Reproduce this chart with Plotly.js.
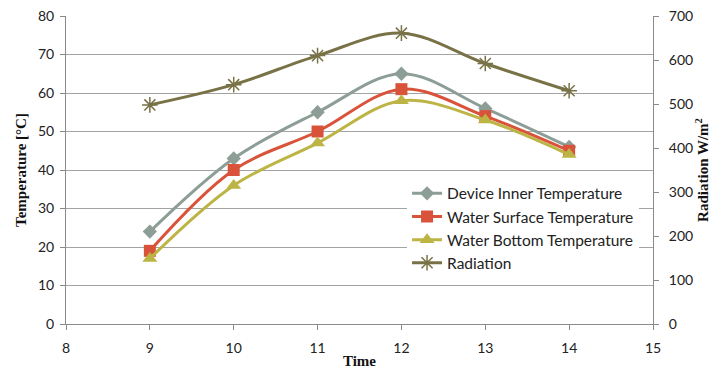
<!DOCTYPE html>
<html>
<head>
<meta charset="utf-8">
<script src="https://cdn.plot.ly/plotly-3.0.1.min.js"></script>
<style>
  html, body { margin: 0; padding: 0; background: #fff; }
  #chart { width: 715px; height: 372px; }
</style>
</head>
<body>
<div id="chart"></div>
<script>
// Hourly measurements
const hours = [9, 10, 11, 12, 13, 14];
const deviceInner = [24, 43, 55, 65, 56, 46];
const waterSurface = [19, 40, 50, 61, 54, 45];
const waterBottom = [17, 36, 47, 58, 53, 44];
const radiation = [498, 544, 610, 661, 592, 530];

const tickFont = { family: 'Lato, "Open Sans", sans-serif', size: 14, color: '#222' };
const titleFont = { family: '"Liberation Serif", "Times New Roman", serif', size: 15, color: '#111', weight: 'bold' };

function series(name, y, color, symbol, size, axis, group) {
  return {
    x: hours, y: y, name: name, type: 'scatter', mode: 'lines+markers',
    yaxis: axis, legendgroup: group,
    line: { color: color, width: 3, shape: 'spline', smoothing: 1 },
    marker: { color: color, symbol: symbol, size: size, line: { color: color, width: 0 } }
  };
}

const traces = [
  series('Device Inner Temperature', deviceInner, '#8c9e96', 'diamond', 11, 'y', 'a'),
  series('Water Surface Temperature', waterSurface, '#d9533b', 'square', 12, 'y', 'b'),
  series('Water Bottom Temperature', waterBottom, '#bdb446', 'triangle-up', 13, 'y', 'c'),
  {
    x: hours, y: radiation, name: 'Radiation', type: 'scatter', mode: 'lines+markers',
    yaxis: 'y2', legendgroup: 'd',
    line: { color: '#787246', width: 3, shape: 'spline', smoothing: 1 },
    marker: { symbol: 'asterisk-open', size: 13, color: '#787246', line: { color: '#787246', width: 1.5 } }
  }
];

const layout = {
  width: 715, height: 372,
  margin: { l: 66, r: 62, t: 16, b: 48 },
  paper_bgcolor: '#fff', plot_bgcolor: '#fff',
  showlegend: true,
  legend: {
    x: 0.581, y: 0.478, xanchor: 'left', yanchor: 'top',
    bgcolor: '#fff', borderwidth: 0,
    font: { family: 'Lato, "Open Sans", sans-serif', size: 15.5, color: '#222' },
    traceorder: 'grouped', tracegroupgap: 0
  },
  xaxis: {
    range: [8, 15], dtick: 1, tick0: 8,
    showgrid: false, zeroline: false,
    showline: true, linecolor: '#8a8a8a', linewidth: 1,
    ticks: 'outside', ticklen: 5, tickcolor: '#8a8a8a',
    ticklabelstandoff: 6,
    tickfont: tickFont,
    title: { text: 'Time', font: titleFont, standoff: 0 }
  },
  yaxis: {
    range: [0, 80], dtick: 10,
    showgrid: true, gridcolor: '#a3a3a3', gridwidth: 1,
    zeroline: false,
    showline: true, linecolor: '#8a8a8a', linewidth: 1,
    ticks: 'outside', ticklen: 5, tickcolor: '#8a8a8a',
    ticklabelstandoff: 3,
    tickfont: tickFont,
    title: { text: 'Temperature [°C]', font: titleFont, standoff: 7 }
  },
  yaxis2: {
    range: [0, 700], dtick: 100,
    overlaying: 'y', side: 'right',
    showgrid: false, zeroline: false,
    showline: true, linecolor: '#8a8a8a', linewidth: 1,
    ticks: 'outside', ticklen: 5, tickcolor: '#8a8a8a',
    ticklabelstandoff: 7,
    tickfont: tickFont,
    title: { text: 'Radiation W/m<sup>2</sup>', font: titleFont, standoff: 3 }
  }
};

Plotly.newPlot('chart', traces, layout, { displayModeBar: false, staticPlot: true });
</script>
</body>
</html>
